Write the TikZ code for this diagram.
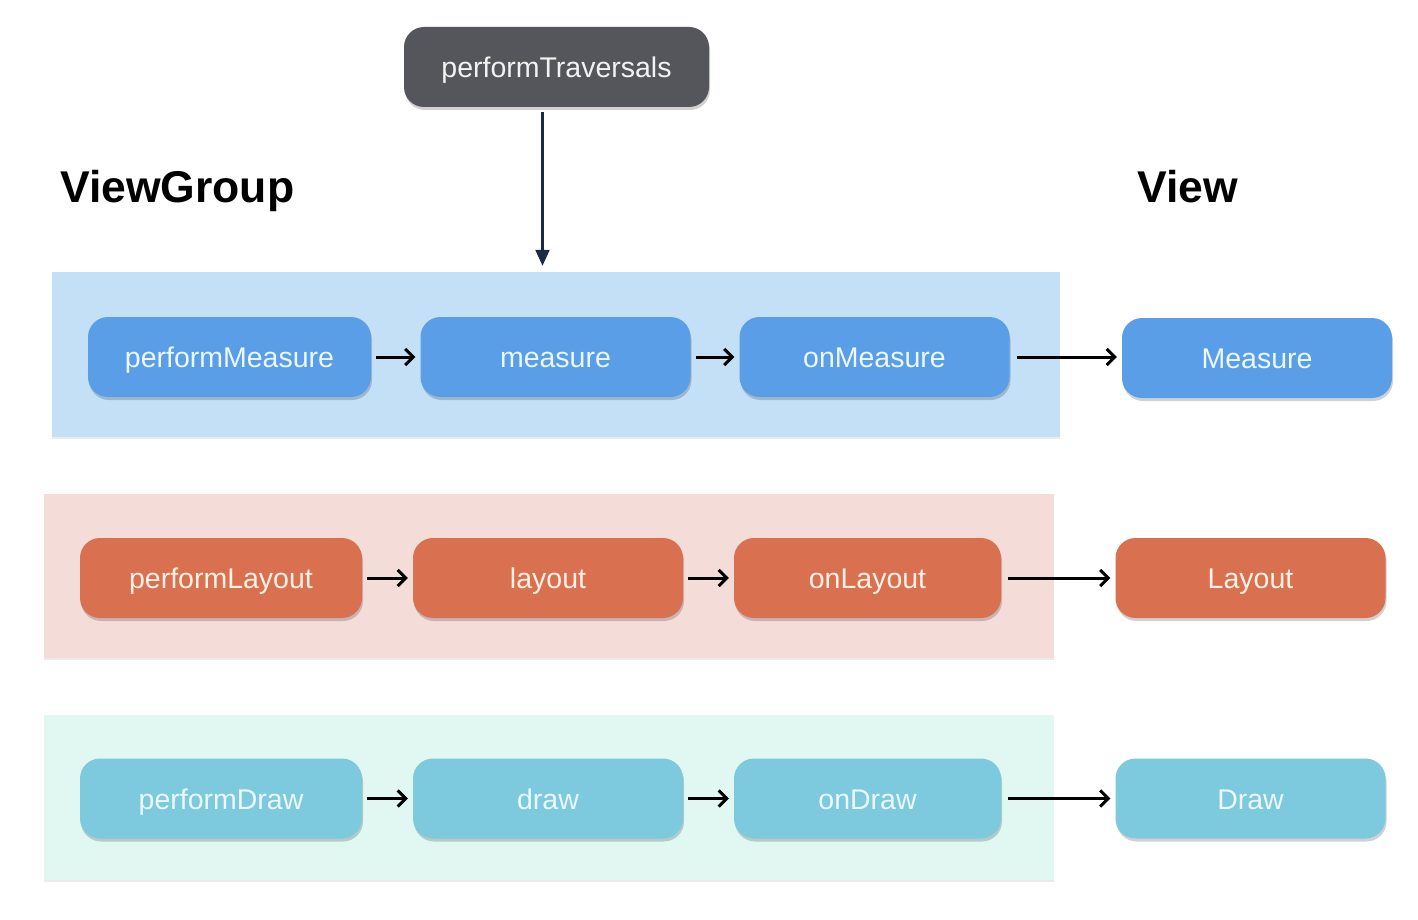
\documentclass[tikz,border=0pt]{standalone}
\usepackage{fontspec}
\setmainfont{Liberation Sans}
\usetikzlibrary{shadows,arrows.meta,calc}
\definecolor{trgray}{HTML}{54565C}
\definecolor{bluenode}{HTML}{5A9EE8}
\definecolor{blueband}{HTML}{C4E0F7}
\definecolor{orgnode}{HTML}{D9704F}
\definecolor{orgband}{HTML}{F4DDD9}
\definecolor{tealnode}{HTML}{7DC9DD}
\definecolor{tealband}{HTML}{E0F8F1}
\definecolor{navy}{HTML}{1B2A48}
\begin{document}
\begin{tikzpicture}[x=1pt,y=-1pt,
  box/.style={rounded corners=20pt, minimum width=270pt, minimum height=80pt, inner sep=0pt,
    text height=27pt, text depth=6pt,
    font=\fontsize{28.5}{30}\selectfont,
    drop shadow={shadow xshift=1pt, shadow yshift=-3pt, fill=black, opacity=0.18}},
  bluebox/.style={box, fill=bluenode, text=white!92!cyan},
  orgbox/.style={box, fill=orgnode, text=white!90!orange},
  tealbox/.style={box, fill=tealnode, text=white!92!cyan},
  band/.style={inner sep=0pt, minimum height=165pt,
    drop shadow={shadow xshift=0pt, shadow yshift=-1.5pt, fill=black, opacity=0.08}},
  head/.style={font=\fontsize{44.5}{47}\selectfont\bfseries, anchor=base west, inner sep=0pt},
  arr/.style={draw=black, line width=3pt, -{Straight Barb[length=8pt,width=16pt,line width=3pt]}},
  varr/.style={draw=navy, line width=2.2pt, -{Triangle[length=16pt,width=14pt]}}
]
\useasboundingbox (0,0) rectangle (1418,920);
\fill[white] (0,0) rectangle (1418,920);

% bands
\node[band, fill=blueband, minimum width=1008pt] (band1) at (556,354.5) {};
\node[band, fill=orgband, minimum width=1010pt, minimum height=164pt] (band2) at (549,576) {};
\node[band, fill=tealband, minimum width=1010pt] (band3) at (549,797.5) {};

% top
\node[box, fill=trgray, text=white!90!gray, minimum width=305pt, minimum height=80pt] (trav) at (556.5,67) {performTraversals};

% headers
\node[head] (vg) at (60,202) {ViewGroup};
\node[head] (vw) at (1137,202) {View};

% row 1
\node[bluebox, minimum width=283pt] (pm) at (229.5,357) {performMeasure};
\node[bluebox] (m) at (555.5,357) {measure};
\node[bluebox] (om) at (874.5,357) {onMeasure};
\node[bluebox] (M) at (1257,358) {Measure};

% row 2
\node[orgbox, minimum width=282pt] (pl) at (221,578) {performLayout};
\node[orgbox] (l) at (548,578) {layout};
\node[orgbox, minimum width=267pt] (ol) at (867.5,578) {onLayout};
\node[orgbox] (L) at (1250.5,578) {Layout};

% row 3
\node[tealbox, minimum width=282pt] (pd) at (221,798.5) {performDraw};
\node[tealbox] (d) at (548,798.5) {draw};
\node[tealbox, minimum width=267pt] (od) at (867.5,798.5) {onDraw};
\node[tealbox] (D) at (1250.5,798.5) {Draw};

% arrows
\draw[varr] ([xshift=-14pt,yshift=-5pt]trav.south) -- ([xshift=-14pt,yshift=6pt]trav.south |- band1.north);

\draw[arr, shorten <=5pt, shorten >=5pt] (pm) -- (m);
\draw[arr, shorten <=5pt, shorten >=5pt] (m) -- (om);
\draw[arr, shorten <=7pt, shorten >=5pt] (om) -- (om.east -| M.west);

\draw[arr, shorten <=5pt, shorten >=5pt] (pl) -- (l);
\draw[arr, shorten <=5pt, shorten >=5pt] (l) -- (ol);
\draw[arr, shorten <=7pt, shorten >=5pt] (ol) -- (L);

\draw[arr, shorten <=5pt, shorten >=5pt] (pd) -- (d);
\draw[arr, shorten <=5pt, shorten >=5pt] (d) -- (od);
\draw[arr, shorten <=7pt, shorten >=5pt] (od) -- (D);
\end{tikzpicture}
\end{document}
